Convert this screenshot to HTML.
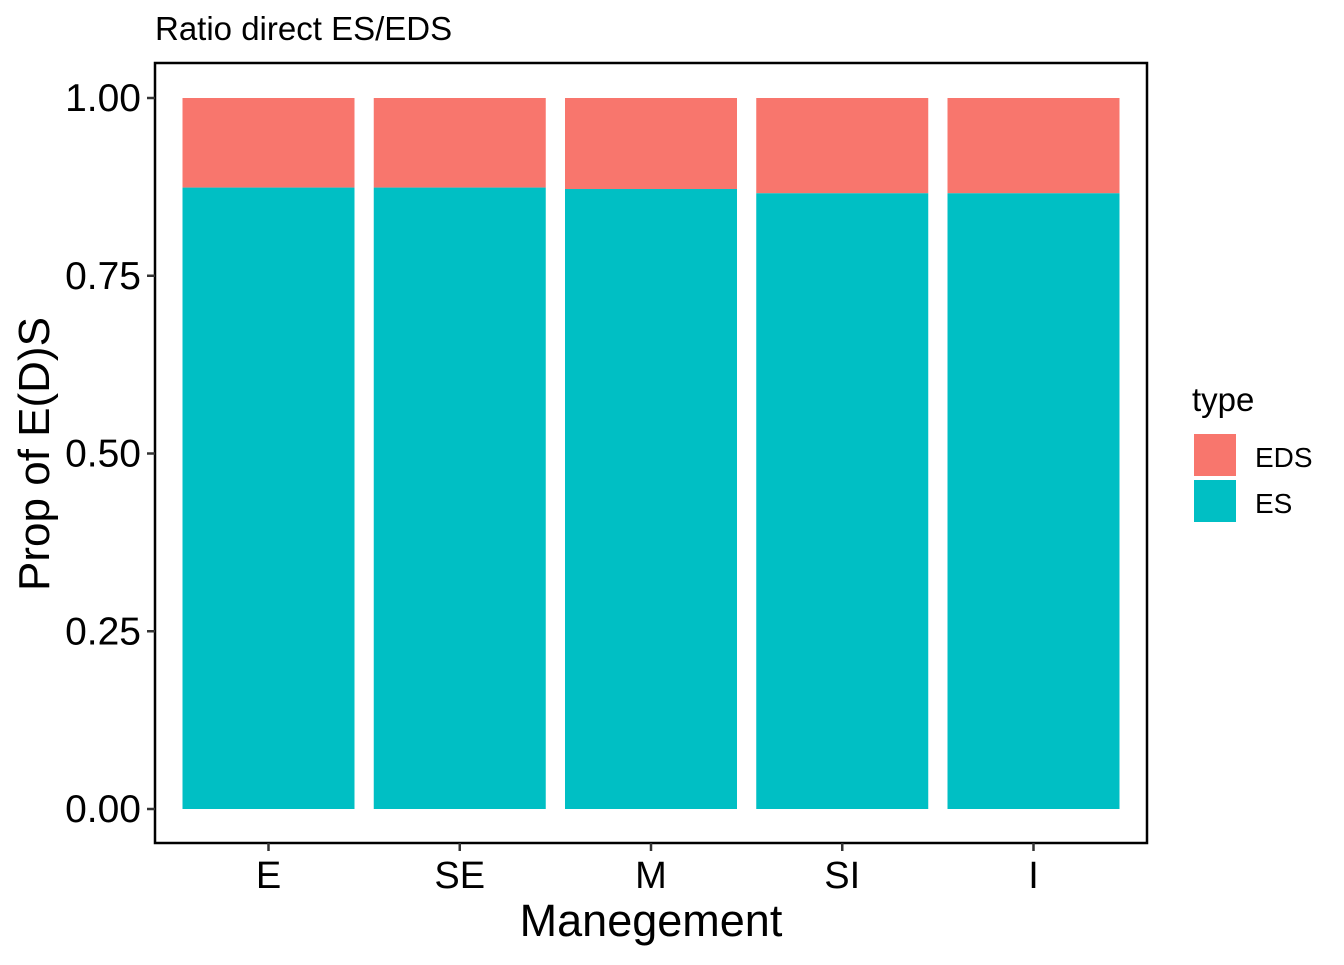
<!DOCTYPE html>
<html><head><meta charset="utf-8"><style>
body{margin:0;background:#fff;}
svg text{font-family:"Liberation Sans",Arial,sans-serif;}
</style></head><body>
<svg id="chart" width="1344" height="960" xmlns="http://www.w3.org/2000/svg">
<rect width="1344" height="960" fill="#fff"/>
<text x="155" y="40" font-size="33" fill="#000">Ratio direct ES/EDS</text>
<g id="bars"></g>
<rect x="155" y="63" width="992" height="780" fill="none" stroke="#000" stroke-width="2.5"/>
<g id="axes"></g>
<text x="49" y="454" font-size="44" text-anchor="middle" transform="rotate(-90 49 454)">Prop of E(D)S</text>
<text x="651" y="936" font-size="45" text-anchor="middle">Manegement</text>
<g>
<text x="1192" y="411" font-size="33">type</text>
<rect x="1194" y="434" width="42" height="42" fill="#F8766D"/>
<text x="1255" y="467" font-size="28">EDS</text>
<rect x="1194" y="480" width="42" height="42" fill="#00BFC4"/>
<text x="1255" y="513" font-size="28">ES</text>
</g>
</svg>
<script>
const categories = ["E","SE","M","SI","I"];
const esValues = [0.874, 0.874, 0.872, 0.866, 0.866];
const yTicks = [0, 0.25, 0.5, 0.75, 1.0];
const yTickLabels = ["0.00","0.25","0.50","0.75","1.00"];
const NS="http://www.w3.org/2000/svg";
const y = v => 809 - v*711;
const step = 191.25, x0 = 268.5, bw = 172;
const xc = i => x0 + i*step;
const bars=document.getElementById('bars'), axes=document.getElementById('axes');
function mk(tag, attrs, parent){const e=document.createElementNS(NS,tag);for(const k in attrs)e.setAttribute(k,attrs[k]);parent.appendChild(e);return e;}
categories.forEach((c,i)=>{
  const es=esValues[i];
  const r1=mk('rect',{x:xc(i)-bw/2,y:y(1),width:bw,height:y(es)-y(1),fill:'#F8766D'},bars);
  
  
  const r2=mk('rect',{x:xc(i)-bw/2,y:y(es),width:bw,height:y(0)-y(es),fill:'#00BFC4'},bars);
  
  
  const t=mk('line',{x1:xc(i),x2:xc(i),y1:843,y2:851,stroke:'#333','stroke-width':2.5},axes);
  
  
  const l=mk('text',{x:xc(i),y:888,'font-size':38,'text-anchor':'middle'},axes);
  l.textContent=c;
  
  
});
yTicks.forEach((v,i)=>{
  const t=mk('line',{x1:147,x2:155,y1:y(v),y2:y(v),stroke:'#333','stroke-width':2.5},axes);
  
  
  const l=mk('text',{x:141,y:y(v)+13,'font-size':39,'text-anchor':'end'},axes);
  l.textContent=yTickLabels[i];
  
  
});
</script>
</body></html>
